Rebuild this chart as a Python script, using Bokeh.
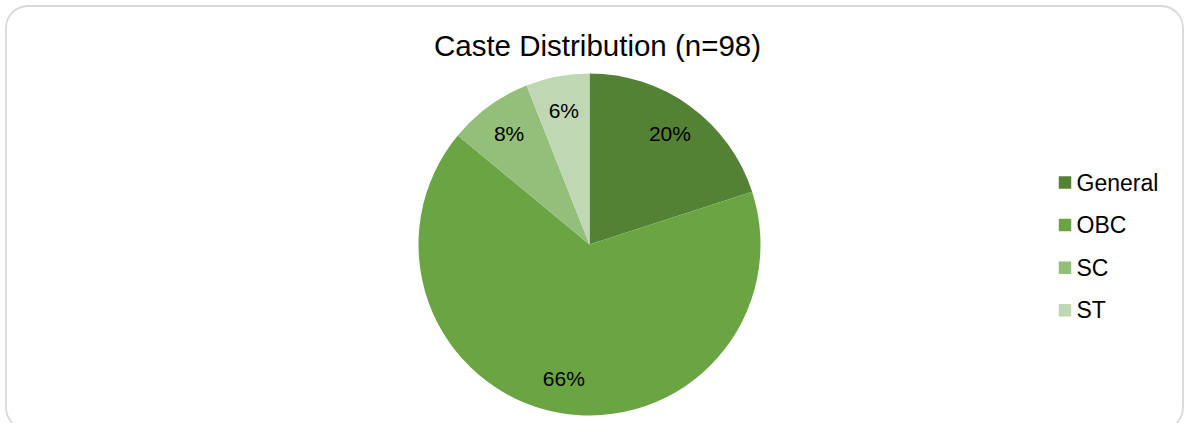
import math
from bokeh.plotting import figure
from bokeh.models import Range1d, ColumnDataSource
from bokeh.core.properties import value
from bokeh.embed import file_html
from bokeh.resources import INLINE

# ---- data ----
categories = ["General", "OBC", "SC", "ST"]
percents = [20, 66, 8, 6]
colors = ["#548235", "#6AA443", "#93BF7B", "#BFD8B3"]
title_text = "Caste Distribution (n=98)"

W, H = 1184, 423
FONT = "Liberation Sans"

p = figure(width=W, height=H, output_backend="svg", toolbar_location=None,
           x_range=Range1d(0, W), y_range=Range1d(0, H), min_border=0,
           outline_line_color=None, background_fill_color="white",
           border_fill_color="white")
p.axis.visible = False
p.grid.visible = False

# rounded border
p.quad(left=[5.5], right=[1182.5], top=[H - 5.5], bottom=[-6],
       fill_color=None, line_color="#D9D9D9", line_width=1.8, border_radius=22)

# pie geometry
cx, cy, R = 589, H - 244, 171
total = sum(percents)
starts, ends, lx, ly, labels = [], [], [], [], []
cum = 0.0
for v in percents:
    a0 = math.pi / 2 - 2 * math.pi * cum / total
    cum += v
    a1 = math.pi / 2 - 2 * math.pi * cum / total
    starts.append(a1)
    ends.append(a0)
    mid = (a0 + a1) / 2
    lx.append(cx + 0.8 * R * math.cos(mid))
    ly.append(cy + 0.8 * R * math.sin(mid))
    labels.append(f"{round(100 * v / total)}%")

src = ColumnDataSource(dict(start=starts, end=ends, color=colors, cat=categories))
p.wedge(x=cx, y=cy, radius=R, start_angle="start", end_angle="end",
        fill_color="color", line_color=None, source=src)

p.text(x=lx, y=ly, text=labels, text_align="center", text_baseline="middle",
       text_font=value(FONT), text_font_size="21px", text_color="#000000")

# title
p.text(x=[597], y=[H - 45], text=[title_text], text_align="center",
       text_baseline="middle", text_font=value(FONT),
       text_font_size="29.5px", text_color="#000000")

# legend
leg_y = [H - (182 + 42.6 * i) for i in range(len(categories))]
p.scatter(x=[1064.5] * len(categories), y=leg_y, marker="square", size=12.5,
          fill_color=colors, line_color=None)
p.text(x=[1076] * len(categories), y=leg_y, text=categories, text_align="left",
       text_baseline="middle", text_font=value(FONT), text_font_size="23px",
       text_color="#000000")

open("out.html", "w").write(file_html(p, INLINE))
